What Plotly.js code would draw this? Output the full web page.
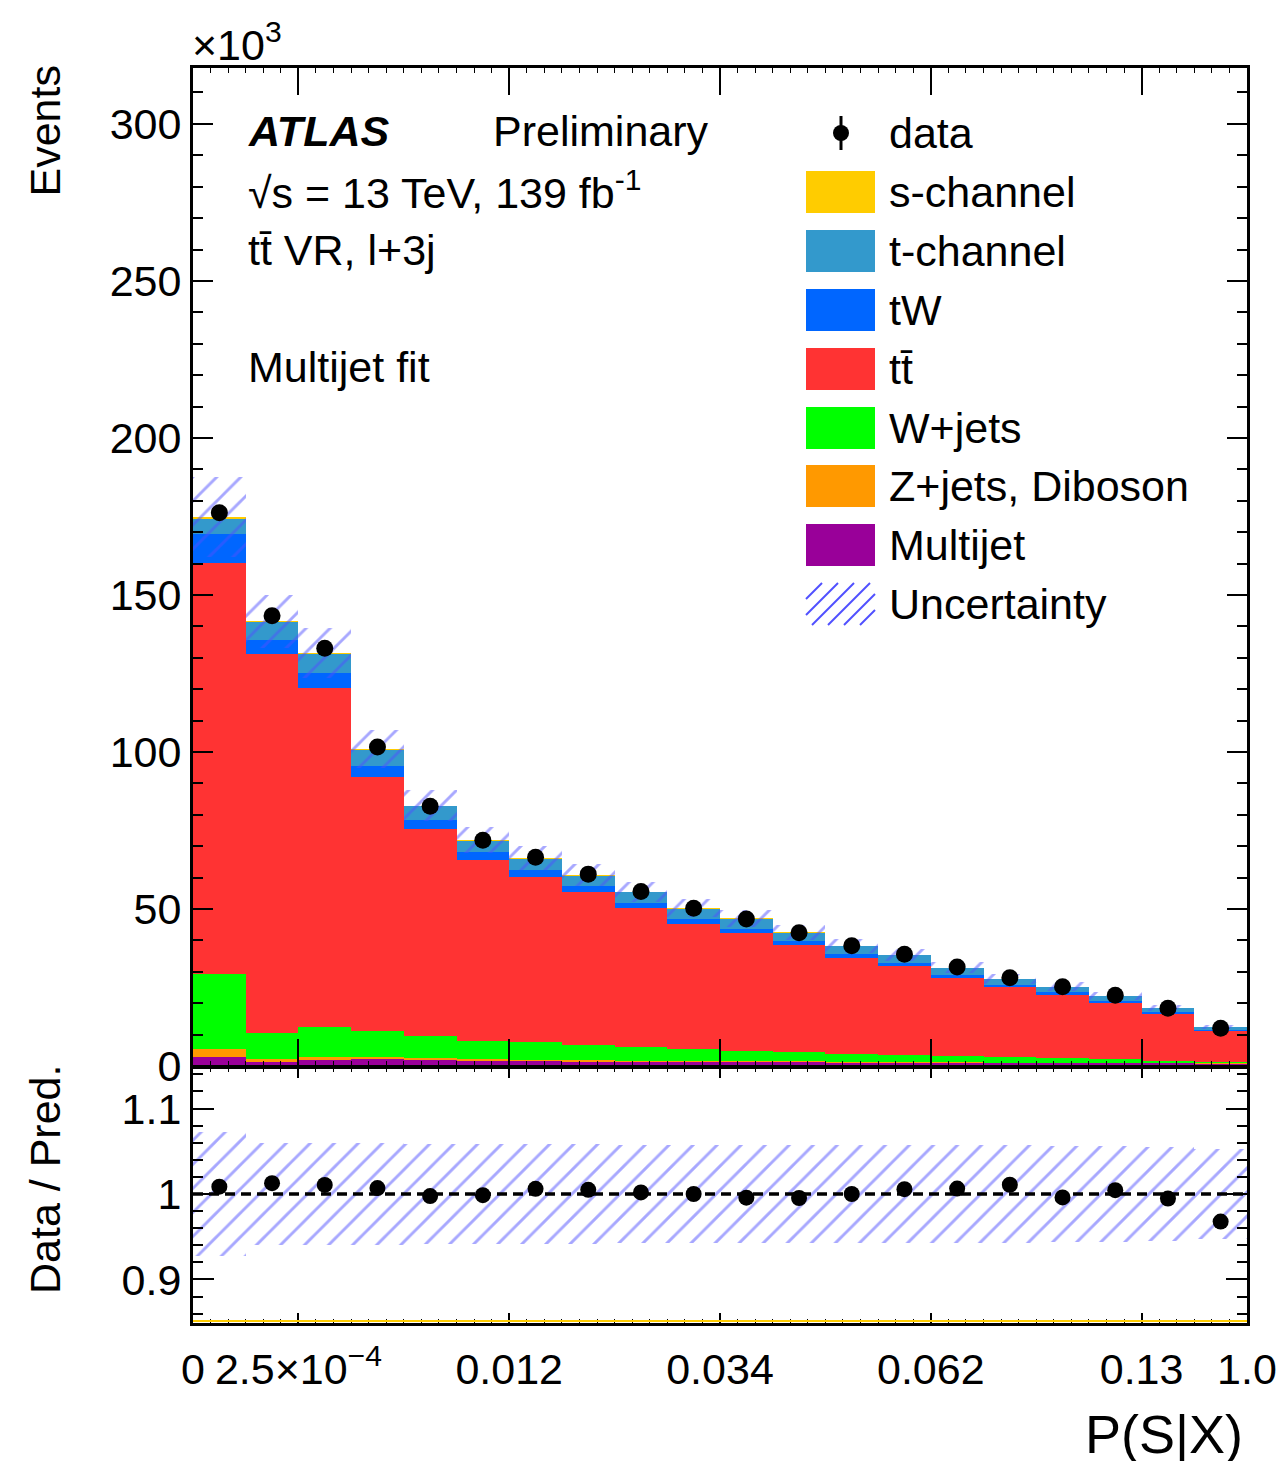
<!DOCTYPE html>
<html>
<head>
<meta charset="utf-8">
<script src="https://cdn.plot.ly/plotly-3.0.1.min.js"></script>
<style>html,body{margin:0;padding:0;background:#fff;}#chart{width:1281px;height:1461px;}</style>
</head>
<body>
<div id="chart"></div>
<script>
// ---- data (events in thousands) ----
const binLabels = ["1","2","3","4","5","6","7","8","9","10","11","12","13","14","15","16","17","18","19","20"];
const tickPositions = [0, 2, 6, 10, 14, 18, 20];
const tickLabels = ["0", "2.5×10<sup>−4</sup>", "0.012", "0.034", "0.062", "0.13", "1.0"];
const dataEvents = [176.2,143.4,133.0,101.6,82.7,71.9,66.5,61.1,55.6,50.2,46.8,42.4,38.3,35.6,31.5,28.1,25.2,22.5,18.4,12.0];
const multijet = [2.9,1.2,2.0,2.1,1.8,1.7,1.5,1.4,1.3,1.3,1.2,1.2,1.0,1.0,1.0,0.9,0.9,0.8,0.8,0.7];
const zjetsDiboson = [2.5,1.0,0.8,0.9,0.6,0.5,0.5,0.5,0.4,0.4,0.3,0.3,0.3,0.2,0.2,0.2,0.2,0.15,0.15,0.1];
const wjets = [23.8,8.3,9.5,8.2,7.2,5.8,5.5,4.8,4.3,3.6,3.4,3.0,2.6,2.3,2.1,1.8,1.4,1.15,0.65,0.5];
const ttbar = [131.1,120.7,108.2,80.7,66.0,57.6,52.8,48.8,44.4,40.0,37.5,34.0,30.6,28.4,24.8,22.3,20.2,18.1,15.1,9.8];
const tW = [9.1,4.3,4.5,3.5,2.8,2.4,2.1,1.8,1.6,1.5,1.3,1.3,1.2,1.0,0.8,0.7,0.8,0.6,0.5,0.5];
const tChannel = [4.9,5.8,6.3,5.2,4.3,3.8,3.5,3.3,3.3,3.2,3.1,2.65,2.45,2.35,2.3,1.8,1.7,1.5,1.2,0.7];
const sChannel = [0.4,0.3,0.3,0.3,0.2,0.2,0.2,0.2,0.2,0.2,0.2,0.15,0.15,0.15,0.1,0.1,0.1,0.1,0.1,0.1];
const relUnc = [0.073,0.06,0.06,0.06,0.059,0.059,0.058,0.058,0.057,0.057,0.057,0.057,0.057,0.057,0.057,0.057,0.056,0.056,0.055,0.053];

// ---- build ----
const N = binLabels.length;
const xc = binLabels.map((_, i) => i + 0.5);
const stackDefs = [
  {name: "Multijet", vals: multijet, color: "#990099"},
  {name: "Z+jets, Diboson", vals: zjetsDiboson, color: "#ff9900"},
  {name: "W+jets", vals: wjets, color: "#00ff00"},
  {name: "tt̄", vals: ttbar, color: "#ff3333"},
  {name: "tW", vals: tW, color: "#0066ff"},
  {name: "t-channel", vals: tChannel, color: "#3399cc"},
  {name: "s-channel", vals: sChannel, color: "#ffcc00"}
];
const cum = new Array(N).fill(0);
const traces = [];
stackDefs.forEach(d => {
  const base = cum.slice();
  traces.push({type: "bar", x: xc, y: d.vals, base: base, width: 1, xaxis: "x", yaxis: "y",
    marker: {color: d.color, line: {width: 0}}, showlegend: false, hoverinfo: "skip"});
  d.vals.forEach((v, i) => cum[i] += v);
});
const total = cum.slice();
const hatchColor = "#5050ff";
const hatch = {shape: "/", fgcolor: hatchColor, fillmode: "overlay", size: 17, solidity: 0.17};
traces.push({type: "bar", x: xc, y: total.map((t, i) => 2 * t * relUnc[i]), base: total.map((t, i) => t * (1 - relUnc[i])),
  width: 1, xaxis: "x", yaxis: "y", marker: {color: "rgba(0,0,0,0)", line: {width: 0}, pattern: hatch}, showlegend: false, hoverinfo: "skip"});
traces.push({type: "scatter", mode: "markers", x: xc, y: dataEvents, xaxis: "x", yaxis: "y",
  marker: {color: "black", size: 17}, showlegend: false});
// ratio
traces.push({type: "bar", x: xc, y: relUnc.map(u => 2 * u), base: relUnc.map(u => 1 - u), width: 1, xaxis: "x2", yaxis: "y2",
  marker: {color: "rgba(0,0,0,0)", line: {width: 0}, pattern: hatch}, showlegend: false, hoverinfo: "skip"});
traces.push({type: "scatter", mode: "markers", x: xc, y: dataEvents.map((d, i) => d / total[i]), xaxis: "x2", yaxis: "y2",
  marker: {color: "black", size: 16}, showlegend: false});

// ---- layout helpers (pixel -> paper) ----
const L = 193, T = 68, W = 1054, H = 1255;
const px = x => (x - L) / W;
const py = y => (T + H - y) / H;
const FONT = "Liberation Sans, Arial, Helvetica, sans-serif";
const fs = 43;

const annotations = [];
const shapes = [];
function txt(text, x, y, opts = {}) {
  annotations.push(Object.assign({text: text, x: px(x), y: py(y), xref: "paper", yref: "paper", showarrow: false,
    xanchor: "left", yanchor: "middle", font: {family: FONT, size: fs, color: "black"}}, opts));
}
txt("<b><i>ATLAS</i></b>", 246, 131);
txt("Preliminary", 491, 131);
txt("√s = 13 TeV, 139 fb<sup>-1</sup>", 246, 190);
txt("tt̄ VR, l+3j", 246, 250);
txt("Multijet fit", 246, 367);
txt("×10<sup>3</sup>", 190, 42);
txt("Events", 45, 64, {textangle: -90, xanchor: "center", yanchor: "top"});
txt("Data / Pred.", 45, 1180, {textangle: -90, xanchor: "center", yanchor: "middle"});
txt("P(S|X)", 1245, 1434, {xanchor: "right", font: {family: FONT, size: 54, color: "black"}});

// legend
const rowY = [133, 192, 251, 310, 369, 428, 486, 545, 604];
const legendItems = [
  {name: "data"}, {name: "s-channel", color: "#ffcc00"}, {name: "t-channel", color: "#3399cc"},
  {name: "tW", color: "#0066ff"}, {name: "tt̄", color: "#ff3333"}, {name: "W+jets", color: "#00ff00"},
  {name: "Z+jets, Diboson", color: "#ff9900"}, {name: "Multijet", color: "#990099"}, {name: "Uncertainty", hatch: true}
];
const bx0 = 806, bx1 = 875, bh = 42;
legendItems.forEach((it, k) => {
  const y = rowY[k];
  txt(it.name, 887, y);
  if (it.color) {
    shapes.push({type: "rect", xref: "paper", yref: "paper", x0: px(bx0), x1: px(bx1), y0: py(y - bh / 2), y1: py(y + bh / 2),
      fillcolor: it.color, line: {width: 0}});
  } else if (it.hatch) {
    const X0 = bx0, X1 = bx1, Y0 = y - bh / 2, Y1 = y + bh / 2, Hh = Y1 - Y0, Ww = X1 - X0;
    for (let c = -Hh; c < Ww; c += 16) {
      const xs = Math.max(X0, X0 + c), xe = Math.min(X1, X0 + c + Hh);
      if (xe <= xs) continue;
      const ys = Y1 - (xs - X0 - c), ye = Y1 - (xe - X0 - c);
      shapes.push({type: "line", xref: "paper", yref: "paper", x0: px(xs), y0: py(ys), x1: px(xe), y1: py(ye),
        line: {color: hatchColor, width: 2}});
    }
  } else {
    shapes.push({type: "line", xref: "paper", yref: "paper", x0: px(841), x1: px(841), y0: py(y - 17), y1: py(y + 17),
      line: {color: "black", width: 3}});
    shapes.push({type: "circle", xref: "paper", yref: "paper", x0: px(833), x1: px(849), y0: py(y - 8), y1: py(y + 8),
      fillcolor: "black", line: {width: 0}});
  }
});
// ratio reference line
shapes.push({type: "line", xref: "paper", yref: "y2", x0: 0, x1: 1, y0: 1, y1: 1, layer: "above",
  line: {color: "black", width: 3.5, dash: "10px,6px"}});
shapes.push({type: "line", xref: "paper", yref: "paper", x0: 0, x1: 1, y0: py(1321), y1: py(1321),
  line: {color: "#ffcc00", width: 2}});

const axisCommon = {showline: true, linewidth: 3, linecolor: "black", mirror: "allticks", showgrid: false, zeroline: false,
  ticks: "inside", tickcolor: "black", tickwidth: 2, tickfont: {family: FONT, size: fs, color: "black"}};

const layout = {
  width: 1281, height: 1461, margin: {l: L, r: 1281 - L - W, t: T, b: 1461 - T - H},
  paper_bgcolor: "white", plot_bgcolor: "white", barmode: "overlay", bargap: 0, showlegend: false,
  font: {family: FONT, size: fs, color: "black"},
  xaxis: Object.assign({}, axisCommon, {domain: [0, 1], anchor: "y", range: [0, 20], tickmode: "array",
    tickvals: tickPositions.slice(1, -1), showticklabels: false, ticklen: 27,
    minor: {tickmode: "linear", tick0: 0, dtick: 1 / 3, ticks: "inside", ticklen: 5, tickwidth: 1, tickcolor: "black"}}),
  yaxis: Object.assign({}, axisCommon, {domain: [(1323 - 1066) / H, 1], anchor: "x", range: [0, 317.8],
    tickmode: "linear", tick0: 0, dtick: 50, ticklen: 20,
    minor: {tickmode: "linear", tick0: 0, dtick: 10, ticks: "inside", ticklen: 10, tickwidth: 2, tickcolor: "black"}}),
  xaxis2: Object.assign({}, axisCommon, {domain: [0, 1], anchor: "y2", range: [0, 20], tickmode: "array",
    tickvals: tickPositions, ticktext: tickLabels, ticklen: 10, ticklabelstandoff: 6, tickangle: 0,
    minor: {tickmode: "linear", tick0: 0, dtick: 1 / 3, ticks: "inside", ticklen: 4, tickwidth: 1, tickcolor: "black"}}),
  yaxis2: Object.assign({}, axisCommon, {domain: [0, (1323 - 1068) / H], anchor: "x2", range: [0.8491, 1.1474],
    tickmode: "linear", tick0: 0.9, dtick: 0.1, ticklen: 21,
    minor: {tickmode: "linear", tick0: 0.9, dtick: 0.02, ticks: "inside", ticklen: 10, tickwidth: 2, tickcolor: "black"}}),
  annotations: annotations,
  shapes: shapes
};
Plotly.newPlot("chart", traces, layout, {staticPlot: true});
</script>
</body>
</html>
